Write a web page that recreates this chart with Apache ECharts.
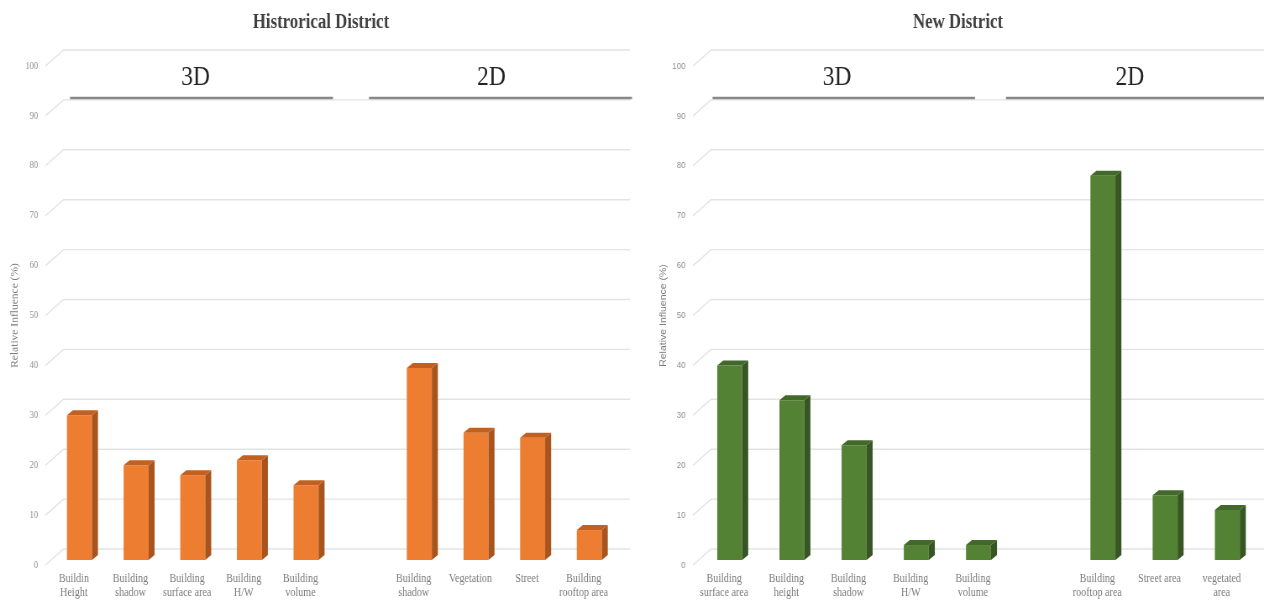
<!DOCTYPE html>
<html>
<head>
<meta charset="utf-8">
<script src="https://cdn.jsdelivr.net/npm/echarts@6/dist/echarts.min.js"></script>
<style>
  html, body { margin: 0; padding: 0; background: #fff; overflow: hidden; }
  #wrap { width: 1264px; height: 601px; overflow: hidden; }
  /* the figure is drawn wide and narrowed horizontally, like the original export */
  #chart { width: 1505px; height: 601px; transform: scaleX(0.83987); transform-origin: 0 0; }
</style>
</head>
<body>
<div id="wrap"><div id="chart"></div></div>
<script>
// ---- data ----
const yTicks = [0, 10, 20, 30, 40, 50, 60, 70, 80, 90, 100];

const histCats3D = ['Buildin\nHeight', 'Building\nshadow', 'Building\nsurface area', 'Building\nH/W', 'Building\nvolume'];
const histVals3D = [29, 19, 17, 20, 15];
const histCats2D = ['Building\nshadow', 'Vegetation', 'Street', 'Building\nrooftop area'];
const histVals2D = [38.5, 25.5, 24.5, 6];

const newCats3D = ['Building\nsurface area', 'Building\nheight', 'Building\nshadow', 'Building\nH/W', 'Building\nvolume'];
const newVals3D = [39, 32, 23, 3, 3];
const newCats2D = ['Building\nrooftop area', 'Street area', 'vegetated\narea'];
const newVals2D = [77, 13, 10];

const groupNames = ['3D', '2D'];
const districtTitles = ['Histrorical District', 'New District'];
const axisName = 'Relative Influence (%)';

// ---- layout helpers ----
const SX = 0.83987;                 // horizontal squeeze applied by CSS
const X = v => v / SX;              // screen x -> drawing x
const WALL_DX = X(18), WALL_DY = -16;   // depth of the back wall
const BAR_DX = X(5.6), BAR_DY = -5;     // bar front plane
const BAR_DEPTH_DX = X(6), BAR_DEPTH_DY = -5;
const BAR_W = X(25);

// slots: 3D group, one empty slot, 2D group
function slots(c3, c2) { return c3.concat([''], c2); }
function barData(v3, v2) {
  const out = v3.map((v, i) => [i, v]);
  v2.forEach((v, i) => out.push([v3.length + 1 + i, v]));
  return out;
}

function wallRender(params, api) {
  const cs = params.coordSys;
  const y = api.coord([0, api.value(1)])[1];
  return {
    type: 'polyline',
    shape: { points: [[cs.x, y], [cs.x + WALL_DX, y + WALL_DY], [cs.x + cs.width + WALL_DX, y + WALL_DY]] },
    style: { stroke: '#e3e3e3', lineWidth: 1.4, fill: null },
    silent: true
  };
}

function barRender(colors) {
  return function (params, api) {
    const idx = api.value(0), v = api.value(1);
    const top = api.coord([idx, v]);
    const base = api.coord([idx, 0]);
    const x0 = top[0] - BAR_W / 2 + BAR_DX;
    const x1 = x0 + BAR_W;
    const yt = top[1] + BAR_DY;
    const yb = base[1] + BAR_DY;
    const dx = BAR_DEPTH_DX, dy = BAR_DEPTH_DY;
    return {
      type: 'group',
      children: [
        { type: 'rect', shape: { x: x0, y: yt, width: BAR_W, height: yb - yt },
          style: { fill: colors.front } },
        { type: 'polygon', shape: { points: [[x1, yt], [x1 + dx, yt + dy], [x1 + dx, yb + dy], [x1, yb]] },
          style: { fill: colors.side } },
        { type: 'polygon', shape: { points: [[x0, yt], [x1, yt], [x1 + dx, yt + dy], [x0 + dx, yt + dy]] },
          style: { fill: colors.top } }
      ]
    };
  };
}

const orange = { front: '#ED7D31', side: '#A9531D', top: '#C4601F' };
const green = { front: '#548235', side: '#375623', top: '#42682A' };

function xAxisFor(gridIndex, data) {
  return {
    type: 'category', gridIndex, data,
    axisLine: { show: false }, axisTick: { show: false },
    axisLabel: {
      interval: 0, margin: 7, color: '#7b7b7b', fontFamily: 'Liberation Serif',
      fontSize: 12, lineHeight: 14, verticalAlign: 'top'
    }
  };
}
function yAxisFor(gridIndex, serif) {
  const fam = serif ? 'Liberation Serif' : 'Liberation Sans';
  return {
    type: 'value', gridIndex, min: 0, max: 100, interval: 10,
    axisLine: { show: false }, axisTick: { show: false }, splitLine: { show: false },
    axisLabel: { margin: X(7.5), color: '#8e8e8e', fontFamily: fam, fontSize: serif ? 10 : 9.5 },
    name: axisName, nameLocation: 'middle', nameGap: X(25),
    nameTextStyle: { color: '#7b7b7b', fontFamily: fam, fontSize: serif ? 11.5 : 10.5 }
  };
}

function headerLine(x1, x2) {
  return { type: 'line', shape: { x1: X(x1), y1: 98, x2: X(x2), y2: 98 },
           style: { stroke: '#898989', lineWidth: 2.6 }, z: 10 };
}
function headerText(text, cx, cy, size, bold, color) {
  return { type: 'text', x: X(cx), y: cy, z: 10,
           style: { text, fill: color, font: (bold ? 'bold ' : '') + size + 'px "Liberation Serif"',
                    textAlign: 'center', textVerticalAlign: 'middle' } };
}

const chart = echarts.init(document.getElementById('chart'), null, { renderer: 'canvas' });
chart.setOption({
  animation: false,
  grid: [
    { left: X(45.5), top: 66, width: X(566.5), height: 499 },
    { left: X(693), top: 66, width: X(559.8), height: 499 }
  ],
  xAxis: [
    xAxisFor(0, slots(histCats3D, histCats2D)),
    xAxisFor(1, slots(newCats3D, newCats2D))
  ],
  yAxis: [yAxisFor(0, true), yAxisFor(1, false)],
  series: [
    { type: 'custom', xAxisIndex: 0, yAxisIndex: 0, data: yTicks.map(v => [0, v]),
      encode: { x: 0, y: 1 }, renderItem: wallRender, z: 1, clip: false },
    { type: 'custom', xAxisIndex: 1, yAxisIndex: 1, data: yTicks.map(v => [0, v]),
      encode: { x: 0, y: 1 }, renderItem: wallRender, z: 1, clip: false },
    { type: 'custom', xAxisIndex: 0, yAxisIndex: 0, data: barData(histVals3D, histVals2D),
      encode: { x: 0, y: 1 }, renderItem: barRender(orange), z: 5, clip: false },
    { type: 'custom', xAxisIndex: 1, yAxisIndex: 1, data: barData(newVals3D, newVals2D),
      encode: { x: 0, y: 1 }, renderItem: barRender(green), z: 5, clip: false }
  ],
  graphic: [
    headerText(districtTitles[0], 321, 23, 20, true, '#404040'),
    headerText(districtTitles[1], 958, 23, 20, true, '#404040'),
    headerText(groupNames[0], 195.5, 78, 28, false, '#222'),
    headerText(groupNames[1], 491.5, 78, 28, false, '#222'),
    headerText(groupNames[0], 837, 78, 28, false, '#222'),
    headerText(groupNames[1], 1130, 78, 28, false, '#222'),
    headerLine(70, 333),
    headerLine(369, 632),
    headerLine(712.5, 975),
    headerLine(1006, 1264)
  ]
});
</script>
</body>
</html>
